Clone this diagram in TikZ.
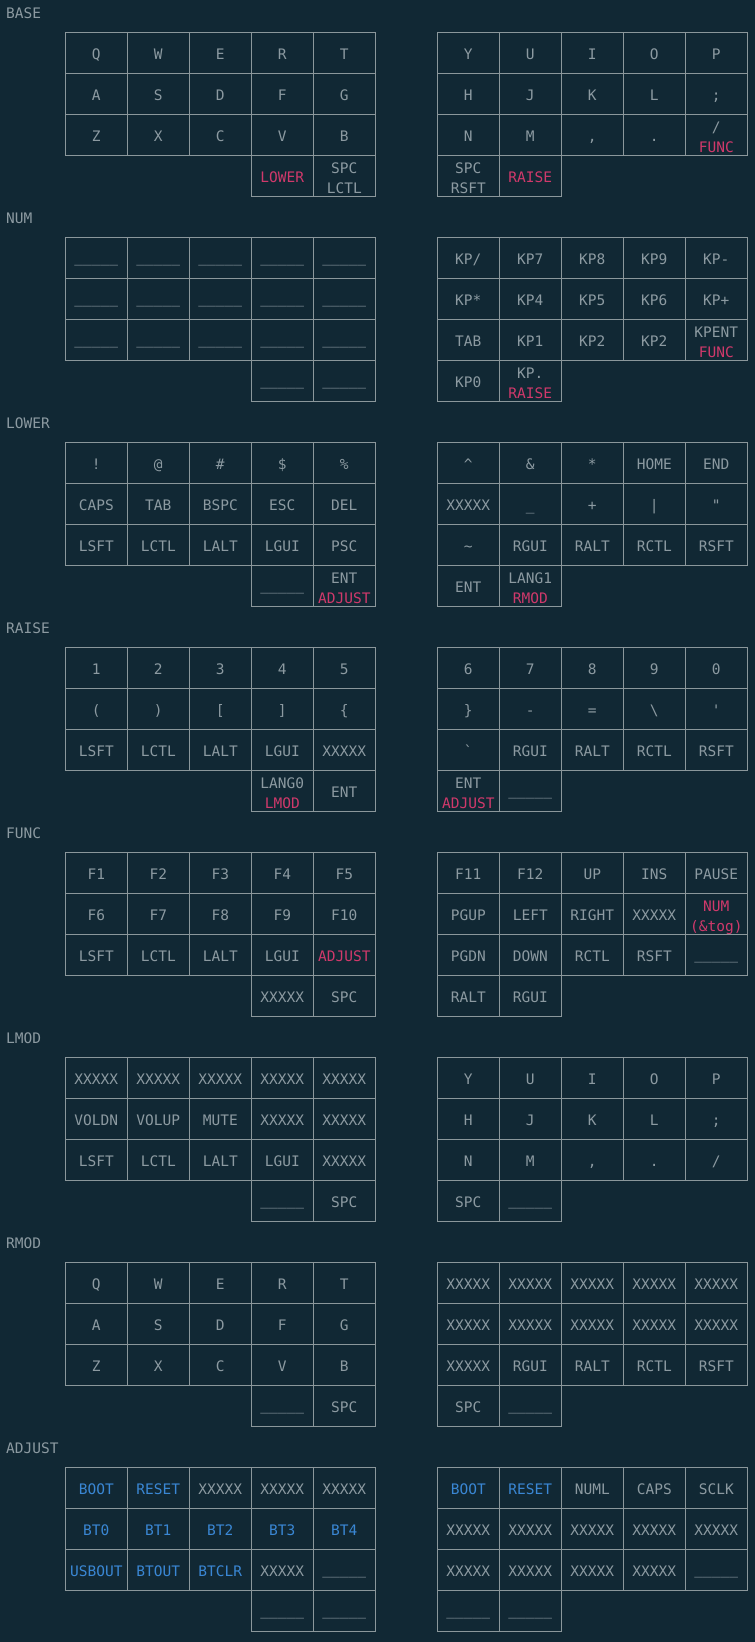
\documentclass[tikz,border=0pt]{standalone}
\usepackage{fontspec}
\setmonofont{DejaVu Sans Mono}
\definecolor{bgc}{HTML}{112834}
\definecolor{gridc}{HTML}{8B979B}
\definecolor{txtc}{HTML}{8C9AA1}
\definecolor{pinkc}{HTML}{D0396B}
\definecolor{bluec}{HTML}{3A87D4}
\newcommand\Pk[1]{\textcolor{pinkc}{#1}}
\newcommand\Bk[1]{\textcolor{bluec}{#1}}
\newcommand\two[2]{\makebox[0pt]{\raisebox{9pt}[0pt][0pt]{#1}}\makebox[0pt]{\raisebox{-11pt}[0pt][0pt]{#2}}}
\newcommand\tr{\raisebox{1.6pt}{\_\_\_\_\_}}
\newcommand\kcell[4]{%
  \node[keybox] (#1) at ({#2+31},{#3+20.5}) {};
  \node[keytext] (#1-t) at ({#2+31},{#3+27}) {#4};}
\newcommand\krow[8]{%
  \kcell{#1-1}{#2}{#3}{#4}%
  \kcell{#1-2}{#2+62}{#3}{#5}%
  \kcell{#1-3}{#2+124}{#3}{#6}%
  \kcell{#1-4}{#2+186}{#3}{#7}%
  \kcell{#1-5}{#2+248}{#3}{#8}}
\begin{document}
\begin{tikzpicture}[x=1pt,y=-1pt,
  keybox/.style={draw=gridc, line width=1pt, minimum width=62pt, minimum height=41pt, inner sep=0pt, outer sep=0pt},
  keytext/.style={anchor=base, inner sep=0pt, text=txtc, font={\fontsize{14.5pt}{17pt}\selectfont\ttfamily}},
  layerlabel/.style={anchor=base west, inner sep=0pt, text=txtc, font={\fontsize{14.5pt}{17pt}\selectfont\ttfamily}}]
\fill[bgc] (0,0) rectangle (755,1642);
\useasboundingbox (0,0) rectangle (755,1642);

% ---------------- BASE
\begin{scope}[shift={(0,0)}]
\node[layerlabel] (lab-base) at (6,18.3) {BASE};
\krow{base-l1}{65.3}{32.3}{Q}{W}{E}{R}{T}
\krow{base-l2}{65.3}{73.3}{A}{S}{D}{F}{G}
\krow{base-l3}{65.3}{114.3}{Z}{X}{C}{V}{B}
\kcell{base-lt1}{251.3}{155.3}{\Pk{LOWER}}
\kcell{base-lt2}{313.3}{155.3}{\two{SPC}{LCTL}}
\krow{base-r1}{437.3}{32.3}{Y}{U}{I}{O}{P}
\krow{base-r2}{437.3}{73.3}{H}{J}{K}{L}{;}
\krow{base-r3}{437.3}{114.3}{N}{M}{,}{.}{\two{/}{\Pk{FUNC}}}
\kcell{base-rt1}{437.3}{155.3}{\two{SPC}{RSFT}}
\kcell{base-rt2}{499.3}{155.3}{\Pk{RAISE}}
\end{scope}

% ---------------- NUM
\begin{scope}[shift={(0,205)}]
\node[layerlabel] (lab-num) at (6,18.3) {NUM};
\krow{num-l1}{65.3}{32.3}{\tr}{\tr}{\tr}{\tr}{\tr}
\krow{num-l2}{65.3}{73.3}{\tr}{\tr}{\tr}{\tr}{\tr}
\krow{num-l3}{65.3}{114.3}{\tr}{\tr}{\tr}{\tr}{\tr}
\kcell{num-lt1}{251.3}{155.3}{\tr}
\kcell{num-lt2}{313.3}{155.3}{\tr}
\krow{num-r1}{437.3}{32.3}{KP/}{KP7}{KP8}{KP9}{KP-}
\krow{num-r2}{437.3}{73.3}{KP*}{KP4}{KP5}{KP6}{KP+}
\krow{num-r3}{437.3}{114.3}{TAB}{KP1}{KP2}{KP2}{\two{KPENT}{\Pk{FUNC}}}
\kcell{num-rt1}{437.3}{155.3}{KP0}
\kcell{num-rt2}{499.3}{155.3}{\two{KP.}{\Pk{RAISE}}}
\end{scope}

% ---------------- LOWER
\begin{scope}[shift={(0,410)}]
\node[layerlabel] (lab-lower) at (6,18.3) {LOWER};
\krow{lower-l1}{65.3}{32.3}{!}{@}{\#}{\$}{\%}
\krow{lower-l2}{65.3}{73.3}{CAPS}{TAB}{BSPC}{ESC}{DEL}
\krow{lower-l3}{65.3}{114.3}{LSFT}{LCTL}{LALT}{LGUI}{PSC}
\kcell{lower-lt1}{251.3}{155.3}{\tr}
\kcell{lower-lt2}{313.3}{155.3}{\two{ENT}{\Pk{ADJUST}}}
\krow{lower-r1}{437.3}{32.3}{\textasciicircum}{\&}{*}{HOME}{END}
\krow{lower-r2}{437.3}{73.3}{XXXXX}{\_}{+}{|}{"}
\krow{lower-r3}{437.3}{114.3}{\textasciitilde}{RGUI}{RALT}{RCTL}{RSFT}
\kcell{lower-rt1}{437.3}{155.3}{ENT}
\kcell{lower-rt2}{499.3}{155.3}{\two{LANG1}{\Pk{RMOD}}}
\end{scope}

% ---------------- RAISE
\begin{scope}[shift={(0,615)}]
\node[layerlabel] (lab-raise) at (6,18.3) {RAISE};
\krow{raise-l1}{65.3}{32.3}{1}{2}{3}{4}{5}
\krow{raise-l2}{65.3}{73.3}{(}{)}{[}{]}{\{}
\krow{raise-l3}{65.3}{114.3}{LSFT}{LCTL}{LALT}{LGUI}{XXXXX}
\kcell{raise-lt1}{251.3}{155.3}{\two{LANG0}{\Pk{LMOD}}}
\kcell{raise-lt2}{313.3}{155.3}{ENT}
\krow{raise-r1}{437.3}{32.3}{6}{7}{8}{9}{0}
\krow{raise-r2}{437.3}{73.3}{\}}{-}{=}{\textbackslash}{\textquotesingle}
\krow{raise-r3}{437.3}{114.3}{\textasciigrave}{RGUI}{RALT}{RCTL}{RSFT}
\kcell{raise-rt1}{437.3}{155.3}{\two{ENT}{\Pk{ADJUST}}}
\kcell{raise-rt2}{499.3}{155.3}{\tr}
\end{scope}

% ---------------- FUNC
\begin{scope}[shift={(0,820)}]
\node[layerlabel] (lab-func) at (6,18.3) {FUNC};
\krow{func-l1}{65.3}{32.3}{F1}{F2}{F3}{F4}{F5}
\krow{func-l2}{65.3}{73.3}{F6}{F7}{F8}{F9}{F10}
\krow{func-l3}{65.3}{114.3}{LSFT}{LCTL}{LALT}{LGUI}{\Pk{ADJUST}}
\kcell{func-lt1}{251.3}{155.3}{XXXXX}
\kcell{func-lt2}{313.3}{155.3}{SPC}
\krow{func-r1}{437.3}{32.3}{F11}{F12}{UP}{INS}{PAUSE}
\krow{func-r2}{437.3}{73.3}{PGUP}{LEFT}{RIGHT}{XXXXX}{\two{\Pk{NUM}}{\Pk{(\&tog)}}}
\krow{func-r3}{437.3}{114.3}{PGDN}{DOWN}{RCTL}{RSFT}{\tr}
\kcell{func-rt1}{437.3}{155.3}{RALT}
\kcell{func-rt2}{499.3}{155.3}{RGUI}
\end{scope}

% ---------------- LMOD
\begin{scope}[shift={(0,1025)}]
\node[layerlabel] (lab-lmod) at (6,18.3) {LMOD};
\krow{lmod-l1}{65.3}{32.3}{XXXXX}{XXXXX}{XXXXX}{XXXXX}{XXXXX}
\krow{lmod-l2}{65.3}{73.3}{VOLDN}{VOLUP}{MUTE}{XXXXX}{XXXXX}
\krow{lmod-l3}{65.3}{114.3}{LSFT}{LCTL}{LALT}{LGUI}{XXXXX}
\kcell{lmod-lt1}{251.3}{155.3}{\tr}
\kcell{lmod-lt2}{313.3}{155.3}{SPC}
\krow{lmod-r1}{437.3}{32.3}{Y}{U}{I}{O}{P}
\krow{lmod-r2}{437.3}{73.3}{H}{J}{K}{L}{;}
\krow{lmod-r3}{437.3}{114.3}{N}{M}{,}{.}{/}
\kcell{lmod-rt1}{437.3}{155.3}{SPC}
\kcell{lmod-rt2}{499.3}{155.3}{\tr}
\end{scope}

% ---------------- RMOD
\begin{scope}[shift={(0,1230)}]
\node[layerlabel] (lab-rmod) at (6,18.3) {RMOD};
\krow{rmod-l1}{65.3}{32.3}{Q}{W}{E}{R}{T}
\krow{rmod-l2}{65.3}{73.3}{A}{S}{D}{F}{G}
\krow{rmod-l3}{65.3}{114.3}{Z}{X}{C}{V}{B}
\kcell{rmod-lt1}{251.3}{155.3}{\tr}
\kcell{rmod-lt2}{313.3}{155.3}{SPC}
\krow{rmod-r1}{437.3}{32.3}{XXXXX}{XXXXX}{XXXXX}{XXXXX}{XXXXX}
\krow{rmod-r2}{437.3}{73.3}{XXXXX}{XXXXX}{XXXXX}{XXXXX}{XXXXX}
\krow{rmod-r3}{437.3}{114.3}{XXXXX}{RGUI}{RALT}{RCTL}{RSFT}
\kcell{rmod-rt1}{437.3}{155.3}{SPC}
\kcell{rmod-rt2}{499.3}{155.3}{\tr}
\end{scope}

% ---------------- ADJUST
\begin{scope}[shift={(0,1435)}]
\node[layerlabel] (lab-adjust) at (6,18.3) {ADJUST};
\krow{adj-l1}{65.3}{32.3}{\Bk{BOOT}}{\Bk{RESET}}{XXXXX}{XXXXX}{XXXXX}
\krow{adj-l2}{65.3}{73.3}{\Bk{BT0}}{\Bk{BT1}}{\Bk{BT2}}{\Bk{BT3}}{\Bk{BT4}}
\krow{adj-l3}{65.3}{114.3}{\Bk{USBOUT}}{\Bk{BTOUT}}{\Bk{BTCLR}}{XXXXX}{\tr}
\kcell{adj-lt1}{251.3}{155.3}{\tr}
\kcell{adj-lt2}{313.3}{155.3}{\tr}
\krow{adj-r1}{437.3}{32.3}{\Bk{BOOT}}{\Bk{RESET}}{NUML}{CAPS}{SCLK}
\krow{adj-r2}{437.3}{73.3}{XXXXX}{XXXXX}{XXXXX}{XXXXX}{XXXXX}
\krow{adj-r3}{437.3}{114.3}{XXXXX}{XXXXX}{XXXXX}{XXXXX}{\tr}
\kcell{adj-rt1}{437.3}{155.3}{\tr}
\kcell{adj-rt2}{499.3}{155.3}{\tr}
\end{scope}
\end{tikzpicture}
\end{document}
